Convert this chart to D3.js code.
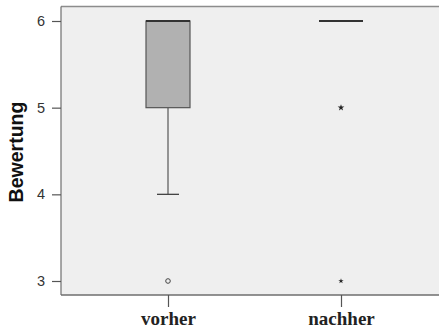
<!DOCTYPE html>
<html>
<head>
<meta charset="utf-8">
<script src="https://cdn.jsdelivr.net/npm/d3@7"></script>
<style>
  html, body { margin: 0; padding: 0; background: #fff; }
  svg { display: block; }
</style>
</head>
<body>
<svg id="chart" width="439" height="329"></svg>
<script>
// Ratings before and after, summarised as box plots
const groups = ["vorher", "nachher"];
const q1 = [5, 6];
const median = [6, 6];
const q3 = [6, 6];
const whiskerLow = [4, 6];
const whiskerHigh = [6, 6];
// outliers: [group index, value]; "o" = mild outlier, "*" = extreme
const outlierGroup = [0, 1, 1];
const outlierValue = [3, 5, 3];
const outlierKind = ["o", "*", "*"];
const yTicks = [3, 4, 5, 6];

const svg = d3.select("#chart");
const W = 439, H = 329;
const plot = { left: 61, top: 6.5, right: 440, bottom: 295 };

const y = d3.scaleLinear().domain([3, 6]).range([281, 21]);
// two categories centred at 168 and 341
const x = d3.scalePoint().domain(groups).range([168, 341]);

// plot background
svg.append("rect")
  .attr("x", plot.left).attr("y", plot.top)
  .attr("width", plot.right - plot.left).attr("height", plot.bottom - plot.top)
  .attr("fill", "#efefef");

// frame lines (top, bottom, left)
svg.append("line").attr("x1", plot.left).attr("x2", W).attr("y1", plot.top).attr("y2", plot.top)
  .attr("stroke", "#8c8c8c").attr("stroke-width", 1.5);
svg.append("line").attr("x1", plot.left).attr("x2", W).attr("y1", plot.bottom).attr("y2", plot.bottom)
  .attr("stroke", "#6e6e6e").attr("stroke-width", 1.5);
svg.append("line").attr("x1", plot.left).attr("x2", plot.left).attr("y1", plot.top).attr("y2", plot.bottom)
  .attr("stroke", "#6e6e6e").attr("stroke-width", 1.2);

// y axis
const yAxis = d3.axisLeft(y).tickValues(yTicks).tickSize(9).tickPadding(7).tickFormat(d3.format("d"));
const ya = svg.append("g").attr("transform", `translate(${plot.left},0)`).call(yAxis);
ya.select(".domain").remove();
ya.selectAll(".tick line").attr("stroke", "#555").attr("stroke-width", 1.2);
ya.selectAll(".tick text")
  .attr("font-family", "Liberation Sans, Arial, sans-serif")
  .attr("font-size", 14.5).attr("fill", "#333");

// x axis
const xAxis = d3.axisBottom(x).tickSize(12).tickPadding(5);
const xa = svg.append("g").attr("transform", `translate(0,${plot.bottom})`).call(xAxis);
xa.select(".domain").remove();
xa.selectAll(".tick line").attr("stroke", "#555").attr("stroke-width", 1.2);
xa.selectAll(".tick text")
  .attr("font-family", "Liberation Serif, 'DejaVu Serif', serif")
  .attr("font-weight", "bold")
  .attr("font-size", 19).attr("fill", "#222");

// y axis title
svg.append("text")
  .attr("transform", "translate(23,152) rotate(-90)")
  .attr("text-anchor", "middle")
  .attr("font-family", "Liberation Sans, Arial, sans-serif")
  .attr("font-weight", "bold").attr("font-size", 19.5).attr("fill", "#111")
  .text("Bewertung");

const boxW = 44, capW = 22;
groups.forEach((g, i) => {
  const cx = x(g);
  const gEl = svg.append("g");
  // whiskers
  if (whiskerLow[i] < q1[i]) {
    gEl.append("line").attr("x1", cx).attr("x2", cx).attr("y1", y(q1[i])).attr("y2", y(whiskerLow[i]))
      .attr("stroke", "#555").attr("stroke-width", 1.2);
    gEl.append("line").attr("x1", cx - capW / 2).attr("x2", cx + capW / 2)
      .attr("y1", y(whiskerLow[i])).attr("y2", y(whiskerLow[i]))
      .attr("stroke", "#444").attr("stroke-width", 1.3);
  }
  if (whiskerHigh[i] > q3[i]) {
    gEl.append("line").attr("x1", cx).attr("x2", cx).attr("y1", y(q3[i])).attr("y2", y(whiskerHigh[i]))
      .attr("stroke", "#555").attr("stroke-width", 1.2);
  }
  // box
  if (q3[i] > q1[i]) {
    gEl.append("rect")
      .attr("x", cx - boxW / 2).attr("y", y(q3[i]))
      .attr("width", boxW).attr("height", y(q1[i]) - y(q3[i]))
      .attr("fill", "#b1b1b1").attr("stroke", "#555").attr("stroke-width", 1.2);
  }
  // median
  gEl.append("line")
    .attr("x1", cx - boxW / 2).attr("x2", cx + boxW / 2)
    .attr("y1", y(median[i])).attr("y2", y(median[i]))
    .attr("stroke", "#333").attr("stroke-width", 2);
});

// outliers
outlierValue.forEach((v, k) => {
  const cx = x(groups[outlierGroup[k]]);
  if (outlierKind[k] === "o") {
    svg.append("circle").attr("cx", cx).attr("cy", y(v)).attr("r", 2.3)
      .attr("fill", "none").attr("stroke", "#444").attr("stroke-width", 1);
  } else {
    svg.append("path")
      .attr("d", d3.symbol(d3.symbolStar, v === 5 ? 14 : 9)())
      .attr("transform", `translate(${cx},${y(v)})`)
      .attr("fill", "#222");
  }
});
</script>
</body>
</html>
